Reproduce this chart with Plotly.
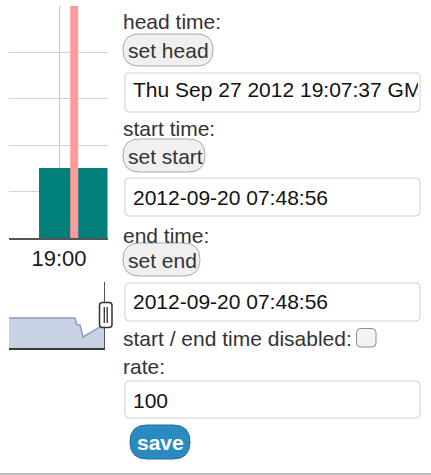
import plotly.graph_objects as go

W, H = 431, 475
FONT = "Liberation Sans"


def px(x):
    return x / W


def py(y):
    return 1 - y / H


# ---------------- data ----------------
bar_start = ["2012-09-27 18:50:00"]
bar_values = [1.5]
bar_width_min = 40
head_time = "2012-09-27 19:07:37"
main_range = ["2012-09-27 18:35:00", "2012-09-27 19:24:15"]
x_tick_vals = ["2012-09-27 19:00:00"]
x_tick_labels = ["19:00"]
y_grid_vals = [1, 2, 3, 4]

overview_times = ["2012-09-20 07:48:56", "2012-09-25 11:00:00", "2012-09-25 14:50:00",
                  "2012-09-25 20:25:00", "2012-09-26 02:00:00", "2012-09-27 09:50:00",
                  "2012-09-27 19:07:37"]
overview_values = [0.455, 0.455, 0.35, 0.35, 0.167, 0.32, 0.32]

labels = ["head time:", "start time:", "end time:", "start / end time disabled:", "rate:"]
buttons = ["set head", "set start", "set end"]
input_values = ["Thu Sep 27 2012 19:07:37 GMT+0200 (CEST)", "2012-09-20 07:48:56",
                "2012-09-20 07:48:56", "100"]
save_label = "save"

# ---------------- figure ----------------
fig = go.Figure()

fig.add_trace(go.Bar(x=bar_start, y=bar_values, width=[bar_width_min * 60000], offset=0,
                     marker=dict(color="#017f7b", line=dict(width=0)),
                     xaxis="x", yaxis="y", hoverinfo="skip"))

fig.add_trace(go.Scatter(x=overview_times, y=overview_values, mode="lines", fill="tozeroy",
                         fillcolor="#c9d2e4", line=dict(color="#8f9dbd", width=1.5),
                         xaxis="x2", yaxis="y2", hoverinfo="skip"))

# clipped text of the first input box
fig.add_trace(go.Scatter(x=[0], y=[0.5], mode="text", text=[input_values[0]],
                         textposition="middle right", cliponaxis=True,
                         textfont=dict(family=FONT, size=21, color="#111111"),
                         xaxis="x3", yaxis="y3", hoverinfo="skip"))

shapes = []

# head-time marker
shapes.append(dict(type="line", xref="x", yref="y", x0=head_time, x1=head_time, y0=0, y1=5,
                   line=dict(color="#ff9a9a", width=8), layer="above"))
# overview handle line
shapes.append(dict(type="line", xref="x2", yref="y2", x0=head_time, x1=head_time, y0=0, y1=1,
                   line=dict(color="#555555", width=2), layer="above"))


def rrect(x0, y0, x1, y1, r):
    pts = [("M", x0 + r, y0), ("L", x1 - r, y0), ("Q", x1, y0, x1, y0 + r),
           ("L", x1, y1 - r), ("Q", x1, y1, x1 - r, y1), ("L", x0 + r, y1),
           ("Q", x0, y1, x0, y1 - r), ("L", x0, y0 + r), ("Q", x0, y0, x0 + r, y0)]
    s = ""
    for p in pts:
        cmd = p[0]
        coords = p[1:]
        parts = []
        for i in range(0, len(coords), 2):
            parts.append(f"{px(coords[i]):.5f},{py(coords[i + 1]):.5f}")
        s += cmd + " ".join(parts) + " "
    return s + "Z"


def add_rr(x0, y0, x1, y1, r, fill, line, lw=1, layer="above"):
    shapes.append(dict(type="path", xref="paper", yref="paper", path=rrect(x0, y0, x1, y1, r),
                       fillcolor=fill, line=dict(color=line, width=lw), layer=layer))


# overview handle box
add_rr(99.5, 302.5, 112, 327.5, 3, "#ffffff", "#333333", 1.5)
for hx in (104.3, 107.2):
    shapes.append(dict(type="line", xref="paper", yref="paper", x0=px(hx), x1=px(hx),
                       y0=py(307), y1=py(323), line=dict(color="#333333", width=1.3),
                       layer="above"))

# buttons (pills)
pill_boxes = [(123, 34, 213, 66), (123, 139, 205, 172), (123, 243, 200, 276)]
for (x0, y0, x1, y1) in pill_boxes:
    add_rr(x0, y0, x1, y1, (y1 - y0) / 2, "#f0f0f0", "#a9a9a9", 1)

# input boxes
input_boxes = [(125, 73, 420, 112), (125, 178, 420, 216), (125, 283, 420, 321), (125, 381, 420, 418)]
for (x0, y0, x1, y1) in input_boxes:
    add_rr(x0, y0, x1, y1, 4, "#ffffff", "#cfcfcf", 1, layer="below")

# checkbox
add_rr(356.5, 328.5, 376, 347, 4, "#f3f3f3", "#8c8c8c", 1)

# save button
add_rr(130, 425, 190, 459, 17, "#2a8bc1", "#1f6e9a", 1)

# bottom separator
shapes.append(dict(type="line", xref="paper", yref="paper", x0=0, x1=1, y0=py(474), y1=py(474),
                   line=dict(color="#bdbdbd", width=2)))

annotations = []


def text(x, y, s, size=21, color="#333333", bold=False):
    annotations.append(dict(xref="paper", yref="paper", x=px(x), y=py(y), text=f"<b>{s}</b>" if bold else s,
                            xanchor="left", yanchor="middle", showarrow=False,
                            font=dict(family=FONT, size=size, color=color)))


label_y = [21, 128, 235, 338, 366]
for s, yy in zip(labels, label_y):
    text(121, yy, s)

button_y = [50, 156, 260]
for s, yy in zip(buttons, button_y):
    text(126, yy, s)

input_y = [197, 301, 400]
for s, yy in zip(input_values[1:], input_y):
    text(131, yy, s, color="#111111")

text(135, 442, save_label, size=21, color="#ffffff", bold=True)

fig.update_layout(
    width=W, height=H, margin=dict(l=0, r=0, t=0, b=0),
    paper_bgcolor="white", plot_bgcolor="rgba(0,0,0,0)", showlegend=False,
    font=dict(family=FONT),
    shapes=shapes, annotations=annotations, bargap=0,
    xaxis=dict(type="date", domain=[px(9), px(107.5)], range=main_range, anchor="y",
               tickvals=x_tick_vals, ticktext=x_tick_labels, showgrid=True, gridcolor="#c4c4c4",
               showline=True, linecolor="#555555", linewidth=1.5, ticks="",
               tickfont=dict(family=FONT, size=22, color="#1a1a1a"),
               zeroline=False, fixedrange=True),
    yaxis=dict(domain=[py(238), py(6)], range=[0, 5], anchor="x", tickvals=y_grid_vals,
               showticklabels=False, showgrid=True, gridcolor="#d2d2d2", zeroline=False,
               showline=False, ticks=""),
    xaxis2=dict(type="date", domain=[px(9), px(105)], range=[overview_times[0], head_time],
                anchor="y2", showgrid=False, showticklabels=False, ticks="", showline=True,
                linecolor="#3a3a3a", linewidth=2, zeroline=False),
    yaxis2=dict(domain=[py(348), py(282)], range=[0, 1], anchor="x2", showgrid=False,
                showticklabels=False, ticks="", zeroline=False, showline=False),
    xaxis3=dict(domain=[px(133), px(418)], range=[0, 1], anchor="y3", visible=False),
    yaxis3=dict(domain=[py(111), py(72)], range=[0, 1], anchor="x3", visible=False),
)

fig.write_html("out.html", config={"displayModeBar": False},
               post_script="document.body.style.margin='0';")
